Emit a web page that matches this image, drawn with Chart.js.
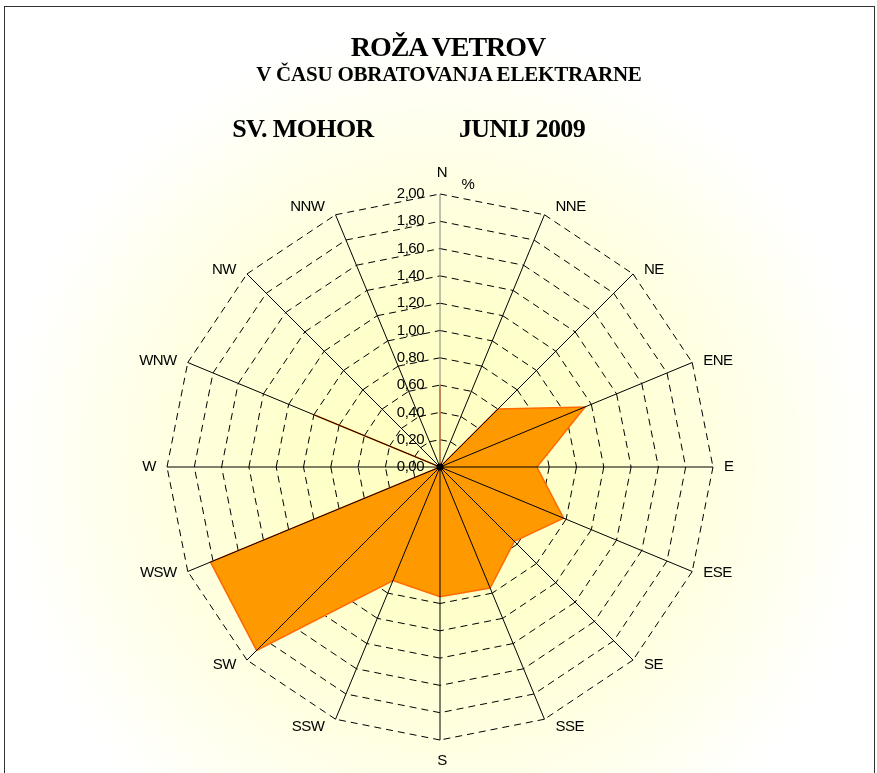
<!DOCTYPE html>
<html>
<head>
<meta charset="utf-8">
<title>Roža vetrov</title>
<script src="https://cdn.jsdelivr.net/npm/chart.js@4/dist/chart.umd.min.js"></script>
<style>
  html, body { margin: 0; padding: 0; background: #fff; }
  #wrap { position: relative; width: 877px; height: 773px; overflow: hidden; }
  #graf { position: absolute; left: 0; top: 0; }
  #okvir { position: absolute; left: 4px; top: 6px; width: 871px; height: 820px;
           border: 1.5px solid #333; box-sizing: border-box; pointer-events: none; }
  .napis { position: absolute; white-space: nowrap; color: #000; transform: translateX(-50%);
           font-family: "Liberation Serif", "Times New Roman", serif; font-weight: bold; }
</style>
</head>
<body>
<div id="wrap">
  <canvas id="graf" width="877" height="773"></canvas>
  <div id="okvir"></div>
  <div class="napis" style="left:448px; top:33px; font-size:28px; line-height:28px; letter-spacing:-1px;">ROŽA VETROV</div>
  <div class="napis" style="left:449px; top:64px; font-size:21px; line-height:21px; letter-spacing:-0.2px;">V ČASU OBRATOVANJA ELEKTRARNE</div>
  <div class="napis" style="left:303px; top:116px; font-size:26px; line-height:26px; letter-spacing:-0.6px;">SV. MOHOR</div>
  <div class="napis" style="left:522px; top:116px; font-size:26px; line-height:26px; letter-spacing:-0.6px;">JUNIJ 2009</div>
</div>
<script>
// smeri vetra in pogostost (%)
const smeri = ['N', 'NNE', 'NE', 'ENE', 'E', 'ESE', 'SE', 'SSE', 'S', 'SSW', 'SW', 'WSW', 'W', 'WNW', 'NW', 'NNW'];
const pogostost = [0.60, 0, 0.60, 1.15, 0.71, 0.98, 0.77, 0.96, 0.95, 0.90, 1.90, 1.82, 0, 1.00, 0, 0];
const oznakeOsi = ['0,00', '0,20', '0,40', '0,60', '0,80', '1,00', '1,20', '1,40', '1,60', '1,80', '2,00'];
const enota = '%';
const osMin = 0;
const osMax = 2;
const korak = 0.2;

const pisava = '15px "Liberation Sans", Arial, sans-serif';

// ozadje z gradientom iz sredine
const ozadje = {
  id: 'ozadje',
  beforeDraw(chart) {
    const ctx = chart.ctx;
    const r = chart.scales.r;
    const g = ctx.createRadialGradient(r.xCenter, r.yCenter, 0, r.xCenter, r.yCenter, 440);
    g.addColorStop(0, '#ffffbf');
    g.addColorStop(0.35, '#ffffcc');
    g.addColorStop(0.65, '#ffffe4');
    g.addColorStop(0.9, '#fffff8');
    g.addColorStop(1, '#ffffff');
    ctx.save();
    ctx.fillStyle = g;
    ctx.fillRect(0, 0, chart.width, chart.height);
    ctx.restore();
  }
};

// crtkana mreža - vsaka stranica posebej, kot v Excelu
const mreza = {
  id: 'mreza',
  beforeDatasetsDraw(chart) {
    const ctx = chart.ctx;
    const r = chart.scales.r;
    const n = chart.data.labels.length;
    ctx.save();
    ctx.strokeStyle = '#000';
    ctx.lineWidth = 1;
    ctx.setLineDash([7, 5]);
    r.ticks.forEach((t, k) => {
      if (k === 0) return;
      const d = r.getDistanceFromCenterForValue(t.value);
      for (let i = 0; i < n; i++) {
        const a = r.getPointPosition(i, d);
        const b = r.getPointPosition((i + 1) % n, d);
        ctx.beginPath();
        ctx.moveTo(a.x, a.y);
        ctx.lineTo(b.x, b.y);
        ctx.stroke();
      }
    });
    ctx.restore();
  },
  afterDatasetsDraw(chart) {
    const ctx = chart.ctx;
    const r = chart.scales.r;
    const n = chart.data.labels.length;
    const R = r.drawingArea;

    // žarki
    ctx.save();
    ctx.lineWidth = 1;
    for (let i = 0; i < n; i++) {
      const p = r.getPointPosition(i, R);
      ctx.strokeStyle = i === 0 ? '#808080' : '#000';
      ctx.beginPath();
      ctx.moveTo(r.xCenter, r.yCenter);
      ctx.lineTo(p.x, p.y);
      ctx.stroke();
    }
    ctx.fillStyle = '#000';
    ctx.beginPath();
    ctx.arc(r.xCenter, r.yCenter, 3.5, 0, Math.PI * 2);
    ctx.fill();

    // oznake vrednosti
    ctx.font = pisava;
    ctx.letterSpacing = '-0.5px';
    ctx.fillStyle = '#000';
    ctx.textAlign = 'right';
    ctx.textBaseline = 'middle';
    r.ticks.forEach((t, k) => {
      const d = r.getDistanceFromCenterForValue(t.value);
      ctx.fillText(oznakeOsi[k], r.xCenter - 16, r.yCenter - d);
    });

    // enota
    ctx.textAlign = 'center';
    ctx.fillText(enota, r.xCenter + 28, r.yCenter - R - 9);

    // smeri
    for (let i = 0; i < n; i++) {
      const lab = chart.data.labels[i];
      const w = ctx.measureText(lab).width;
      const kot = r.getIndexAngle(i) - Math.PI / 2;
      const c = Math.cos(kot), s = Math.sin(kot);
      const p = r.getPointPosition(i, R);
      let x, y;
      if (Math.abs(c) < 0.01) {
        x = p.x + 2;
        y = p.y + Math.sign(s) * 21;
      } else {
        x = p.x + Math.sign(c) * (11 + w / 2);
        y = p.y + 9 * s * Math.abs(s);
      }
      ctx.fillText(lab, x, y);
    }
    ctx.restore();
  }
};

new Chart(document.getElementById('graf'), {
  type: 'radar',
  data: {
    labels: smeri,
    datasets: [{
      label: 'Pogostost',
      data: pogostost,
      backgroundColor: '#ff9900',
      borderColor: '#ff6a00',
      borderWidth: 1.5,
      fill: true,
      pointRadius: 0,
      pointHoverRadius: 0,
      tension: 0
    }]
  },
  plugins: [ozadje, mreza],
  options: {
    responsive: false,
    animation: false,
    events: [],
    layout: { padding: { left: 167, right: 164, top: 194, bottom: 33 } },
    plugins: {
      legend: { display: false },
      title: { display: false },
      tooltip: { enabled: false }
    },
    scales: {
      r: {
        min: osMin,
        max: osMax,
        ticks: { stepSize: korak, display: false },
        grid: { display: false },
        angleLines: { display: false },
        pointLabels: { display: false }
      }
    }
  }
});
</script>
</body>
</html>
